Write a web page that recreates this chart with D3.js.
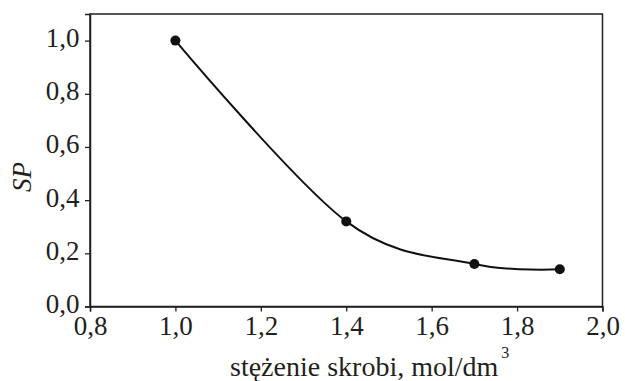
<!DOCTYPE html>
<html><head><meta charset="utf-8">
<script src="https://cdn.jsdelivr.net/npm/d3@7"></script>
<style>body{margin:0;background:#fff}svg{display:block}svg text{font-family:"Liberation Serif",serif}</style>
</head><body>
<svg id="c" width="625" height="381"></svg>
<script>
const xValues = [1.0, 1.4, 1.7, 1.9];
const spValues = [1.0, 0.32, 0.16, 0.14];
const xTicks = [0.8, 1.0, 1.2, 1.4, 1.6, 1.8, 2.0];
const yTicks = [0.0, 0.2, 0.4, 0.6, 0.8, 1.0];
const xLabel = "stężenie skrobi, mol/dm";
const yLabel = "SP";

const svg = d3.select("#c");
const m = {l: 90, t: 14, r: 22.5, b: 74.5};
const W = 625, H = 381;
const x = d3.scaleLinear().domain([0.8, 2.0]).range([m.l, W - m.r]);
const y = d3.scaleLinear().domain([0, 1.1]).range([H - m.b, m.t]);
const fmt = d => d3.format(".1f")(d).replace(".", ",");
const ink = "#231f20";

svg.append("rect").attr("x", m.l).attr("y", m.t)
  .attr("width", W - m.r - m.l).attr("height", H - m.b - m.t)
  .attr("fill", "none").attr("stroke", ink).attr("stroke-width", 1.5);

const gx = svg.append("g").attr("transform", `translate(0,${H - m.b})`)
  .call(d3.axisBottom(x).tickValues(xTicks).tickFormat(fmt).tickSize(5).tickPadding(4));
const gy = svg.append("g").attr("transform", `translate(${m.l},0)`)
  .call(d3.axisLeft(y).tickValues(yTicks).tickFormat(fmt).tickSize(5).tickPadding(5.5));
[gx, gy].forEach(g => {
  g.attr("font-family", null).attr("font-size", null);
  g.select(".domain").attr("stroke", ink).attr("stroke-width", 1.5);
  g.selectAll(".tick line").attr("stroke", ink).attr("stroke-width", 1.3);
  g.selectAll("text").style("font-size", "27px").attr("fill", ink);
});
gy.selectAll("text").attr("dy", "0.22em");

const data = xValues.map((v, i) => ({x: v, y: spValues[i]}));
svg.append("path").datum(data)
  .attr("d", d3.line().x(d => x(d.x)).y(d => y(d.y)).curve(d3.curveCatmullRom.alpha(0)))
  .attr("fill", "none").attr("stroke", "#111").attr("stroke-width", 2);
svg.selectAll("circle.pt").data(data).join("circle")
  .attr("cx", d => x(d.x)).attr("cy", d => y(d.y)).attr("r", 5).attr("fill", "#111");

const xl = svg.append("text").attr("x", 230).attr("y", 376).attr("text-anchor", "start")
  .style("font-size", "28px").attr("fill", ink);
xl.append("tspan").text(xLabel);
xl.append("tspan").text("3").style("font-size", "16px").attr("dx", 3).attr("dy", -18);

svg.append("text").attr("transform", "translate(31,177) rotate(-90)")
  .attr("text-anchor", "middle").style("font-style", "italic")
  .style("font-size", "27px").attr("fill", ink).text(yLabel);
</script>
</body></html>
